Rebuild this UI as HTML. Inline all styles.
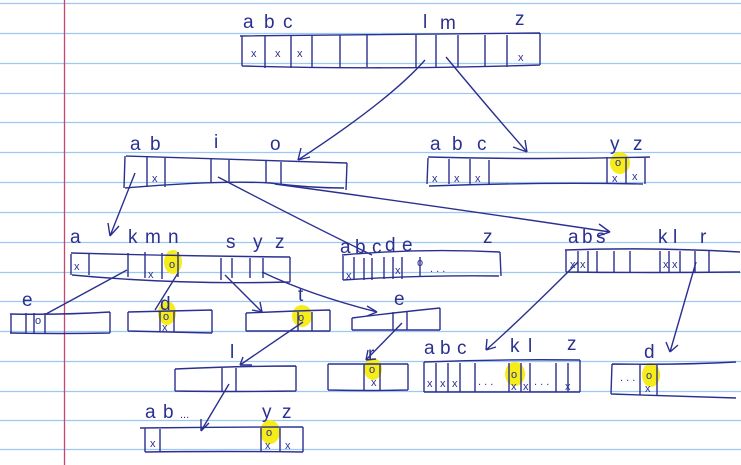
<!DOCTYPE html>
<html><head><style>
html,body{margin:0;padding:0;background:#fff;}
svg{display:block;}
text{font-family:"Liberation Sans",sans-serif;fill:#2b3090;font-size:19px;}
.s{font-size:11px;}
</style></head><body>
<svg width="741" height="465" viewBox="0 0 741 465" xmlns="http://www.w3.org/2000/svg">
<g stroke="#9cc8f4" stroke-width="1.3">
<line x1="0" y1="3.5" x2="741" y2="3.5"/><line x1="0" y1="33.5" x2="741" y2="33.5"/>
<line x1="0" y1="63.5" x2="741" y2="63.5"/><line x1="0" y1="93.5" x2="741" y2="93.5"/>
<line x1="0" y1="122.5" x2="741" y2="122.5"/><line x1="0" y1="152.5" x2="741" y2="152.5"/>
<line x1="0" y1="182.5" x2="741" y2="182.5"/><line x1="0" y1="212.5" x2="741" y2="212.5"/>
<line x1="0" y1="242.5" x2="741" y2="242.5"/><line x1="0" y1="272.5" x2="741" y2="272.5"/>
<line x1="0" y1="301.5" x2="741" y2="301.5"/><line x1="0" y1="331.5" x2="741" y2="331.5"/>
<line x1="0" y1="361.5" x2="741" y2="361.5"/><line x1="0" y1="391.5" x2="741" y2="391.5"/>
<line x1="0" y1="420.5" x2="741" y2="420.5"/><line x1="0" y1="449.5" x2="741" y2="449.5"/>
</g>
<line x1="64.5" y1="0" x2="64.5" y2="465" stroke="#c8466e" stroke-width="1.3"/>
<g fill="#f5ec1a">
<ellipse cx="620" cy="163" rx="10" ry="11"/>
<ellipse cx="173" cy="262" rx="9" ry="12"/>
<ellipse cx="167" cy="313" rx="9" ry="12"/>
<ellipse cx="302" cy="316" rx="10" ry="11"/>
<ellipse cx="373" cy="369" rx="9" ry="11"/>
<ellipse cx="515" cy="374" rx="10" ry="12"/>
<ellipse cx="651" cy="375" rx="9" ry="12"/>
<ellipse cx="270" cy="432" rx="10" ry="12"/>
</g>
<g fill="none" stroke="#2b3090" stroke-width="1.4">
<path d="M240 36 L540 33 M242 66 Q380 70 540 65 M242 36 L242 66 M540 33 L540 65"/>
<path d="M265 35v33 M291 35v33 M312 35v32 M340 35v32 M367 35v32 M416 35v32 M436 35v32 M458 35v32 M485 35v32 M507 35v32"/>
<path d="M126 156 Q240 160 347 163 M125 188 Q220 180 270 183 Q310 188 344 188 M125 156 L124 188 M347 163 L346 190"/>
<path d="M147 157v30 M165 158v29 M211 159v24 M229 160v23 M266 161v22 M281 162v22"/>
<path d="M428 157 Q540 160 650 157 M429 186 Q540 182 643 184 M428 158 L427 184 M645 157 L645 184"/>
<path d="M449 159v25 M470 159v25 M489 160v24 M607 157v27 M626 157v27"/>
<path d="M71 253 Q180 256 290 257 M72 275 Q180 285 290 282 M71 254 L71 275 M290 257 L290 282"/>
<path d="M89 253v22 M128 253v24 M145 252v26 M162 253v26 M178 252v25 M221 258v22 M232 258v20 M250 258v20 M263 258v20"/>
<path d="M342 255 Q420 248 500 252 M343 280 Q420 275 499 276 M343 256 L343 280 M500 252 L501 276"/>
<path d="M354 257v22 M364 258v22 M372 258v22 M384 257v22 M393 257v22 M402 257v22 M420 257v20"/>
<path d="M565 250 Q650 247 740 252 M566 272 Q650 273 740 272 M566 250 L566 272"/>
<path d="M578 251v21 M588 251v21 M597 251v21 M614 251v21 M630 251v21 M660 251v21 M669 251v21 M680 251v21 M695 251v21 M709 251v21"/>
<path d="M10 314 Q60 315 110 312 M10 333 Q60 334 110 333 M11 314 L11 333 M110 312 L110 333 M26 313v21 M34 313v21 M45 313v21"/>
<path d="M128 312 Q170 311 212 310 M128 331 Q170 332 212 333 M128 312 L128 331 M212 310 L212 333 M160 311v21 M174 311v21"/>
<path d="M246 313 Q290 311 330 310 M246 331 L330 331 M246 313 L246 331 M330 310 L330 331 M298 312v19 M312 312v19"/>
<path d="M352 318 Q400 312 440 308 M352 330 L440 330 M352 318 L352 330 M440 308 L440 330 M393 312v18 M407 312v18"/>
<path d="M175 369 Q240 366 296 366 M175 391 Q240 392 296 391 M175 369 L175 391 M296 366 L296 391 M222 368v23 M236 368v23"/>
<path d="M328 364 Q370 364 408 364 M328 390 Q370 391 408 390 M328 364 L328 390 M408 364 L408 390 M364 364v26 M380 364v26"/>
<path d="M424 362 Q500 359 580 360 M424 392 Q500 392 580 392 M424 362 L424 392 M580 360 L580 392"/>
<path d="M436 363v29 M448 363v29 M460 363v29 M475 363v29 M509 363v29 M521 363v29 M530 363v29 M556 363v29 M568 363v29"/>
<path d="M612 364 Q680 365 736 362 M611 394 Q680 396 736 398 M612 364 L611 394 M640 365v30 M657 365v30"/>
<path d="M140 428 Q220 427 303 427 M145 452 Q220 451 303 452 M145 428 L145 452 M303 427 L303 452 M160 429v23 M261 428v24 M280 428v24"/>
<path d="M425 60 Q390 100 298 160 M298 160 l3 -12 M298 160 l12 -3"/>
<path d="M446 57 Q490 110 527 152 M527 152 l-14 -5 M527 152 l-2 -12"/>
<path d="M135 173 L110 236 M110 236 l-2 -13 M110 236 l9 -10"/>
<path d="M218 177 Q300 220 372 255"/>
<path d="M275 184 Q430 205 610 232 M610 232 l-11 -8 M610 232 l-12 4"/>
<path d="M127 270 L46 314"/>
<path d="M178 273 L155 310"/>
<path d="M225 275 L262 312 M262 312 l-10 -2 M262 312 l-2 -10"/>
<path d="M262 272 Q310 295 377 312 M377 312 l-10 -6 M377 312 l-10 4"/>
<path d="M578 262 Q520 320 486 350 M486 350 l1 -11 M486 350 l10 -3"/>
<path d="M696 262 L670 352 M670 352 l-4 -10 M670 352 l8 -7"/>
<path d="M303 322 L240 365 M240 365 l12 0 M240 365 l3 -8"/>
<path d="M402 323 L366 360 M366 360 l2 -10 M366 360 l10 -1"/>
<path d="M229 384 L201 431 M201 431 l0 -12 M201 431 l8 -8"/>
</g>
<text x="243" y="28">a</text><text x="264" y="28">b</text><text x="283" y="28">c</text>
<text x="423" y="28">l</text><text x="440" y="29">m</text><text x="515" y="25">z</text>
<text x="130" y="150">a</text><text x="150" y="150">b</text><text x="214" y="148">i</text><text x="270" y="150">o</text>
<text x="430" y="150">a</text><text x="452" y="150">b</text><text x="477" y="150">c</text><text x="610" y="150">y</text><text x="633" y="150">z</text>
<text x="70" y="243">a</text><text x="128" y="243">k</text><text x="145" y="243">m</text><text x="168" y="243">n</text>
<text x="226" y="248">s</text><text x="253" y="248">y</text><text x="275" y="248">z</text>
<text x="340" y="253">a</text><text x="355" y="253">b</text><text x="372" y="253">c</text><text x="385" y="251">d</text><text x="402" y="251">e</text><text x="483" y="243">z</text>
<text x="568" y="243">a</text><text x="582" y="243">b</text><text x="596" y="243">s</text><text x="658" y="243">k</text><text x="673" y="243">l</text><text x="700" y="243">r</text>
<text x="22" y="306">e</text><text x="160" y="310">d</text><text x="298" y="301">t</text><text x="394" y="305">e</text>
<text x="230" y="358">l</text><text x="368" y="360">r</text>
<text x="424" y="354">a</text><text x="440" y="354">b</text><text x="457" y="354">c</text><text x="510" y="352">k</text><text x="528" y="352">l</text><text x="567" y="350">z</text>
<text x="644" y="358">d</text>
<text x="145" y="418">a</text><text x="163" y="418">b</text><text x="180" y="418" class="s">...</text><text x="262" y="418">y</text><text x="282" y="418">z</text>
<g>
<text x="251" y="57" class="s">x</text><text x="275" y="57" class="s">x</text><text x="297" y="57" class="s">x</text><text x="518" y="61" class="s">x</text>
<text x="152" y="182" class="s">x</text>
<text x="432" y="182" class="s">x</text><text x="454" y="182" class="s">x</text><text x="475" y="182" class="s">x</text><text x="615" y="166" class="s">o</text><text x="612" y="182" class="s">x</text><text x="632" y="180" class="s">x</text>
<text x="74" y="270" class="s">x</text><text x="148" y="278" class="s">x</text><text x="169" y="268" class="s">o</text>
<text x="346" y="279" class="s">x</text><text x="395" y="274" class="s">x</text><text x="417" y="266" class="s">o</text><text x="430" y="272" class="s">. . .</text>
<text x="570" y="268" class="s">x</text><text x="580" y="268" class="s">x</text><text x="663" y="268" class="s">x</text><text x="672" y="268" class="s">x</text>
<text x="35" y="324" class="s">o</text><text x="163" y="320" class="s">o</text><text x="162" y="331" class="s">x</text><text x="298" y="321" class="s">o</text>
<text x="369" y="373" class="s">o</text><text x="371" y="386" class="s">x</text>
<text x="427" y="387" class="s">x</text><text x="440" y="387" class="s">x</text><text x="452" y="387" class="s">x</text><text x="478" y="385" class="s">. . .</text><text x="511" y="378" class="s">o</text><text x="511" y="390" class="s">x</text><text x="523" y="390" class="s">x</text><text x="534" y="385" class="s">. . .</text><text x="565" y="390" class="s">x</text>
<text x="620" y="381" class="s">. . .</text><text x="646" y="379" class="s">o</text><text x="645" y="392" class="s">x</text>
<text x="150" y="447" class="s">x</text><text x="266" y="436" class="s">o</text><text x="265" y="449" class="s">x</text><text x="285" y="449" class="s">x</text>
</g>
</svg>
</body></html>
